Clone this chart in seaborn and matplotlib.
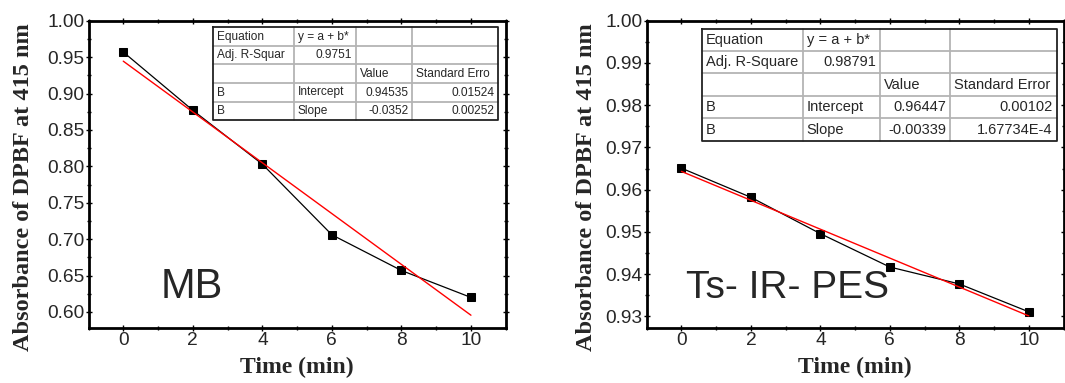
import numpy as np
import pandas as pd
import matplotlib
matplotlib.use("Agg")
import matplotlib.pyplot as plt
from matplotlib.lines import Line2D
from matplotlib.ticker import MultipleLocator, FormatStrFormatter
import seaborn as sns

# ---- data ----
time_min = [0, 2, 4, 6, 8, 10]
mb_abs = [0.957, 0.877, 0.803, 0.706, 0.657, 0.620]
ts_abs = [0.9651, 0.9582, 0.9496, 0.9417, 0.9377, 0.9311]

mb_table = [
    ["Equation", "y = a + b*", "", ""],
    ["Adj. R-Squar", "0.9751", "", ""],
    ["", "", "Value", "Standard Erro"],
    ["B", "Intercept", "0.94535", "0.01524"],
    ["B", "Slope", "-0.0352", "0.00252"],
]
ts_table = [
    ["Equation", "y = a + b*", "", ""],
    ["Adj. R-Square", "0.98791", "", ""],
    ["", "", "Value", "Standard Error"],
    ["B", "Intercept", "0.96447", "0.00102"],
    ["B", "Slope", "-0.00339", "1.67734E-4"],
]

sns.set_style("ticks")
plt.rcParams['font.family'] = ['Liberation Sans', 'DejaVu Sans']

W, H = 1065, 383
fig = plt.figure(figsize=(W / 100, H / 100), dpi=100)


def fx(px):
    return px / W


def fy(py):
    return 1 - py / H


def make_axes(left, right, top=20.7, bottom=328.3):
    return fig.add_axes([fx(left), fy(bottom), fx(right - left), (bottom - top) / H])


def style_axes(ax, ylim, ymaj, ymin, fmt):
    ax.set_xlim(-1, 11)
    ax.set_ylim(*ylim)
    ax.xaxis.set_major_locator(MultipleLocator(2))
    ax.xaxis.set_minor_locator(MultipleLocator(1))
    ax.yaxis.set_major_locator(MultipleLocator(ymaj))
    ax.yaxis.set_minor_locator(MultipleLocator(ymin))
    ax.yaxis.set_major_formatter(FormatStrFormatter(fmt))
    for s in ax.spines.values():
        s.set_visible(True)
        s.set_linewidth(2)
        s.set_color("black")
    ax.tick_params(which="both", direction="inout", top=True, right=True,
                   labeltop=False, labelright=False, width=1, color="black")
    ax.tick_params(which="major", length=4, labelsize=13.8, pad=1.0)
    ax.tick_params(which="minor", length=3)
    ax.set_xlabel("Time (min)", family="Liberation Serif", fontweight="bold", fontsize=17)
    ax.set_ylabel("Absorbance of DPBF at 415 nm", family="Liberation Serif",
                  fontweight="bold", fontsize=17.5)
    ax.xaxis.set_label_coords(0.5, -0.093)


def draw_panel(ax, x, y):
    df = pd.DataFrame({"t": x, "a": y})
    sns.lineplot(data=df, x="t", y="a", ax=ax, color="black", lw=0.9,
                 marker="s", markersize=6, markeredgecolor="black",
                 markerfacecolor="black")
    sns.regplot(data=df, x="t", y="a", ax=ax, scatter=False, ci=None,
                color="red", line_kws={"lw": 1.0})


def draw_table(cells, xs, ys, fs):
    for i, row in enumerate(cells):
        for j, txt in enumerate(row):
            if not txt:
                continue
            yc = fy((ys[i] + ys[i + 1]) / 2)
            right_align = (j == 1 and i == 1) or (j >= 2 and i >= 3)
            if right_align:
                fig.text(fx(xs[j + 1] - 4), yc, txt, ha="right", va="center", fontsize=fs)
            else:
                fig.text(fx(xs[j] + 4), yc, txt, ha="left", va="center", fontsize=fs)
    for yy in ys[1:-1]:
        fig.add_artist(Line2D([fx(xs[0]), fx(xs[-1])], [fy(yy), fy(yy)],
                              color="#b4b4b4", lw=1.3))
    for xx in xs[1:-1]:
        fig.add_artist(Line2D([fx(xx), fx(xx)], [fy(ys[0]), fy(ys[-1])],
                              color="#b4b4b4", lw=1.3))
    bx = [xs[0], xs[-1], xs[-1], xs[0], xs[0]]
    by = [ys[0], ys[0], ys[-1], ys[-1], ys[0]]
    fig.add_artist(Line2D([fx(v) for v in bx], [fy(v) for v in by],
                          color="#222222", lw=1.3))


# Left panel (MB)
ax1 = make_axes(88.5, 505.7)
draw_panel(ax1, time_min, mb_abs)
style_axes(ax1, (0.5776, 1.0), 0.05, 0.025, "%.2f")
ax1.yaxis.set_label_coords((34 - 88.5) / 417.2, 0.46)
fig.text(fx(161), fy(298), "MB", fontsize=30, ha="left", va="baseline")

# Right panel (Ts-IR-PES)
ax2 = make_axes(646.7, 1063.5)
draw_panel(ax2, time_min, ts_abs)
style_axes(ax2, (0.9272, 1.0), 0.01, 0.005, "%.2f")
ax2.yaxis.set_label_coords((597 - 646.7) / 416.8, 0.46)
fig.text(fx(686), fy(298), "Ts- IR- PES", fontsize=28, ha="left", va="baseline")

draw_table(mb_table, [212.7, 294, 356, 412.3, 498.3],
           [27.3, 46, 64.3, 83.3, 101.7, 120], 8.6)
draw_table(ts_table, [701.7, 802.7, 880, 950, 1056.7],
           [29.3, 51, 73.3, 96, 118.3, 140.7], 10.5)

fig.savefig("out.png", dpi=100)
